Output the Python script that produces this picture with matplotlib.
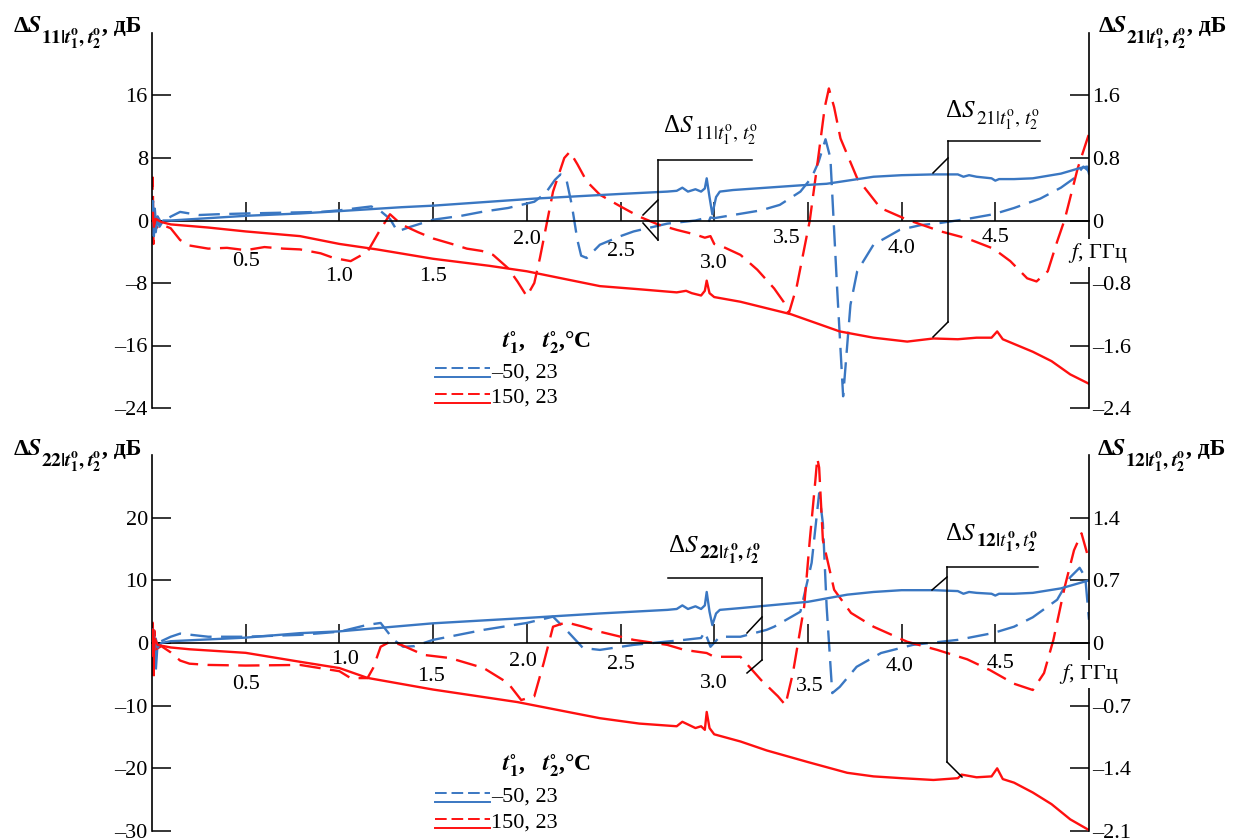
import matplotlib
matplotlib.use('Agg')
import matplotlib.pyplot as plt
from matplotlib.lines import Line2D

plt.rcParams['font.family'] = ['Liberation Serif', 'DejaVu Serif']
plt.rcParams['mathtext.fontset'] = 'stix'

# ---------------- data ----------------
# Top panel: S11 (left axis, dB) and S21 (right axis, dB)
f_s11_m50 = [0, 0.005, 0.01, 0.015, 0.02, 0.03, 0.05, 0.1, 0.15, 0.25, 0.35, 0.5, 0.7, 0.9, 1.0, 1.1, 1.17,
             1.22, 1.27, 1.31, 1.38, 1.5, 1.65, 1.77, 1.9, 2.04, 2.1, 2.15, 2.18, 2.21, 2.24, 2.27, 2.29, 2.32,
             2.39, 2.5, 2.57, 2.75, 2.9, 2.95, 2.97, 2.98, 3.0, 3.1, 3.25, 3.35, 3.46, 3.52, 3.557, 3.594, 3.62,
             3.656, 3.688, 3.727, 3.763, 3.85, 3.99, 4.1, 4.21, 4.35, 4.49, 4.6, 4.74, 4.85, 4.92, 4.97, 5.0]
s11_m50 = [0, 2.5, -1.5, 1.5, -1.0, 0.5, -0.3, 0.5, 1.1, 0.7, 0.8, 0.9, 1.0, 1.1, 1.3, 1.6, 1.8,
           1.2, 0.2, -1.4, -0.8, 0.1, 0.6, 1.15, 1.6, 2.4, 3.5, 5.2, 5.9, 5.4, 2.0, -2.5, -4.5, -4.8,
           -3.1, -2.0, -1.4, -0.4, 0.0, 0.3, -0.2, 0.4, 0.3, 0.7, 1.3, 2.0, 3.7, 5.5, 7.5, 10.4, 8.0,
           -8.7, -22.5, -10.8, -6.5, -3.1, -1.2, -0.6, -0.3, 0.2, 0.8, 1.6, 2.8, 4.2, 5.4, 6.9, 6.3]

f_s11_p150 = [0, 0.004, 0.008, 0.012, 0.02, 0.05, 0.1, 0.15, 0.2, 0.3, 0.4, 0.5, 0.6, 0.7, 0.79, 0.9, 0.97,
              1.06, 1.15, 1.21, 1.27, 1.33, 1.42, 1.5, 1.6, 1.68, 1.76, 1.82, 1.9, 1.95, 2.0, 2.04, 2.07,
              2.14, 2.2, 2.23, 2.27, 2.32, 2.39, 2.5, 2.6, 2.7, 2.8, 2.9, 2.95, 2.98, 3.0, 3.05, 3.14, 3.23,
              3.32, 3.37, 3.398, 3.44, 3.51, 3.557, 3.59, 3.612, 3.64, 3.674, 3.763, 3.887, 4.03, 4.21,
              4.35, 4.49, 4.58, 4.67, 4.72, 4.78, 4.83, 4.87, 4.94, 5.0]
s11_p150 = [0, 5.5, -3.0, 2.0, -1.0, -0.5, -1.0, -2.5, -3.2, -3.6, -3.5, -3.8, -3.4, -3.6, -3.7, -4.2, -4.8,
            -5.2, -4.0, -1.5, 0.8, -0.5, -1.5, -2.3, -3.0, -3.6, -3.9, -4.4, -6.1, -7.8, -9.7, -8.0, -4.8,
            3.7, 8.0, 8.8, 7.2, 5.0, 3.3, 1.8, 0.5, -0.5, -1.2, -1.8, -2.2, -2.0, -3.0, -3.4, -4.4, -6.3,
            -8.7, -10.4, -11.9, -8.5, 0.0, 8.4, 14.5, 16.9, 14.5, 10.5, 5.4, 1.6, 0.1, -1.4,
            -2.3, -3.6, -5.2, -7.4, -7.8, -6.5, -2.7, 0.1, 6.7, 11.1]

f_s21_m50 = [0, 0.005, 0.01, 0.015, 0.02, 0.03, 0.04, 0.06, 0.1, 0.3, 0.5, 0.79, 1.0, 1.33, 1.5, 2.04, 2.5,
             2.75, 2.8, 2.83, 2.86, 2.9, 2.93, 2.95, 2.96, 2.975, 2.99, 3.01, 3.03, 3.1, 3.46, 3.6, 3.85,
             4.0, 4.17, 4.3, 4.33, 4.36, 4.4, 4.48, 4.5, 4.52, 4.6, 4.7, 4.85, 4.95, 4.99, 5.0]
s21_m50 = [0, 0.25, -0.2, 0.15, -0.15, 0.05, -0.08, 0.0, 0.0, 0.03, 0.06, 0.09, 0.12, 0.17, 0.19, 0.28, 0.34,
           0.37, 0.38, 0.42, 0.37, 0.40, 0.37, 0.41, 0.54, 0.3, 0.08, 0.3, 0.37, 0.39, 0.45, 0.47, 0.56,
           0.58, 0.59, 0.59, 0.56, 0.58, 0.56, 0.54, 0.51, 0.53, 0.53, 0.54, 0.60, 0.67, 0.69, 0.60]

f_s21_p150 = [0, 0.005, 0.01, 0.02, 0.05, 0.1, 0.3, 0.5, 0.79, 1.0, 1.2, 1.5, 1.8, 2.0, 2.39, 2.6, 2.8, 2.85,
              2.88, 2.93, 2.95, 2.96, 2.975, 3.0, 3.14, 3.41, 3.67, 3.85, 4.03, 4.17, 4.3, 4.4, 4.48, 4.51,
              4.54, 4.6, 4.7, 4.8, 4.9, 5.0]
s21_p150 = [0, 0.1, -0.08, 0.02, -0.02, -0.05, -0.09, -0.14, -0.2, -0.3, -0.37, -0.49, -0.58, -0.65, -0.84,
            -0.88, -0.92, -0.9, -0.93, -0.96, -0.9, -0.77, -0.93, -0.98, -1.04, -1.2, -1.42, -1.5, -1.55,
            -1.51, -1.52, -1.5, -1.5, -1.42, -1.52, -1.58, -1.68, -1.8, -1.97, -2.09]

# Bottom panel: S22 (left axis, dB) and S12 (right axis, dB)
f_s22_m50 = [0, 0.005, 0.01, 0.015, 0.02, 0.03, 0.05, 0.1, 0.15, 0.3, 0.5, 0.79, 1.0, 1.15, 1.22, 1.29,
             1.34, 1.4, 1.5, 1.77, 2.0, 2.14, 2.21, 2.3, 2.39, 2.57, 2.84, 2.93, 2.95, 2.98, 3.03, 3.14,
             3.28, 3.32, 3.46, 3.52, 3.56, 3.58, 3.6, 3.63, 3.67, 3.76, 3.89, 4.06, 4.21, 4.3, 4.49, 4.6,
             4.7, 4.83, 4.9, 4.95, 4.98, 5.0]
s22_m50 = [0, 1.0, -1.0, 0.5, -4.5, 0.0, 0.3, 1.0, 1.5, 1.0, 1.0, 1.3, 1.8, 2.9, 3.2, 0.5,
           -0.6, -0.5, 0.5, 2.1, 3.2, 4.2, 2.1, -0.8, -1.1, -0.3, 0.5, 0.8, 1.8, -0.6, 1.0, 1.0,
           2.1, 2.6, 5.0, 12.8, 23.9, 19.1, 5.8, -8.0, -7.0, -3.8, -1.6, -0.3, 0.2, 0.5, 1.6, 2.6,
           4.1, 6.9, 10.5, 12.0, 10.5, 3.7]

f_s22_p150 = [0, 0.004, 0.008, 0.012, 0.02, 0.05, 0.1, 0.15, 0.2, 0.3, 0.5, 0.79, 1.0, 1.06, 1.15, 1.18,
              1.22, 1.27, 1.33, 1.45, 1.59, 1.77, 1.9, 1.97, 2.04, 2.09, 2.14, 2.21, 2.3, 2.39, 2.57, 2.75,
              2.84, 2.96, 3.0, 3.14, 3.25, 3.34, 3.38, 3.42, 3.48, 3.51, 3.54, 3.55, 3.56, 3.58, 3.64,
              3.73, 3.85, 4.03, 4.19, 4.35, 4.47, 4.6, 4.7, 4.76, 4.81, 4.87, 4.92, 4.96, 4.99]
s22_p150 = [0, 4.0, -6.0, 2.0, -1.0, -0.5, -1.5, -2.8, -3.3, -3.5, -3.6, -3.5, -4.5, -5.6, -5.6, -4.0,
            -0.6, 0.2, -0.3, -1.9, -2.4, -4.0, -6.4, -9.1, -8.5, -3.2, 2.6, 3.3, 2.6, 1.8, 0.5, -0.3,
            -1.1, -1.6, -2.2, -2.2, -5.9, -8.5, -9.9, -4.8, 5.8, 16.4, 26.0, 29.5, 28.0, 16.4, 8.5,
            4.8, 2.6, 0.2, -1.1, -2.6, -4.3, -6.5, -7.5, -4.8, 0.5, 8.9, 14.8, 17.5, 14.3]

f_s12_m50 = [0, 0.005, 0.01, 0.02, 0.03, 0.05, 0.1, 0.3, 0.5, 0.79, 1.0, 1.5, 2.0, 2.39, 2.75, 2.8, 2.83,
             2.86, 2.9, 2.93, 2.95, 2.96, 2.975, 2.99, 3.01, 3.03, 3.14, 3.5, 3.71, 3.85, 4.0, 4.17, 4.3,
             4.33, 4.36, 4.4, 4.48, 4.5, 4.52, 4.6, 4.7, 4.85, 4.95, 5.0]
s12_m50 = [0, 0.15, -0.1, 0.05, -0.05, 0.0, 0.02, 0.04, 0.06, 0.11, 0.13, 0.22, 0.28, 0.33, 0.37, 0.38, 0.42,
           0.38, 0.41, 0.38, 0.42, 0.57, 0.35, 0.2, 0.33, 0.37, 0.39, 0.46, 0.54, 0.57, 0.59, 0.59, 0.58,
           0.55, 0.57, 0.56, 0.55, 0.53, 0.55, 0.55, 0.56, 0.61, 0.67, 0.70]

f_s12_p150 = [0, 0.004, 0.008, 0.015, 0.03, 0.05, 0.1, 0.2, 0.5, 0.79, 1.0, 1.15, 1.5, 1.95, 2.39, 2.6, 2.8,
              2.83, 2.9, 2.93, 2.95, 2.96, 2.975, 3.0, 3.14, 3.28, 3.5, 3.71, 3.85, 4.0, 4.17, 4.3, 4.32,
              4.4, 4.48, 4.51, 4.54, 4.6, 4.7, 4.8, 4.9, 5.0]
s12_p150 = [0, 0.15, -0.15, 0.05, -0.02, -0.03, -0.05, -0.07, -0.11, -0.21, -0.28, -0.39, -0.52, -0.66, -0.84,
            -0.9, -0.93, -0.88, -0.95, -0.93, -0.97, -0.77, -0.95, -1.02, -1.1, -1.2, -1.33, -1.45, -1.49,
            -1.51, -1.53, -1.51, -1.47, -1.5, -1.49, -1.40, -1.52, -1.56, -1.67, -1.8, -1.97, -2.09]

# axes ticks / labels
x_ticks = [0.5, 1.0, 1.5, 2.0, 2.5, 3.0, 3.5, 4.0, 4.5]
x_labels = ['0.5', '1.0', '1.5', '2.0', '2.5', '3.0', '3.5', '4.0', '4.5']
top_xlabel_pos = [(0.5, -5.2), (1.0, -7.2), (1.5, -7.2), (2.0, -2.4), (2.5, -4.0),
                  (3.0, -5.5), (3.39, -2.3), (4.0, -3.6), (4.5, -2.2)]
bot_xlabel_pos = [(0.5, -6.7), (1.03, -2.7), (1.49, -5.4), (1.98, -3.0), (2.5, -3.5),
                  (3.0, -6.4), (3.51, -7.0), (3.99, -3.8), (4.53, -3.2)]

top_lticks = [-24, -16, -8, 0, 8, 16]
top_llabels = ['–24', '–16', '–8', '0', '8', '16']
top_rticks = [-2.4, -1.6, -0.8, 0, 0.8, 1.6]
top_rlabels = ['–2.4', '–1.6', '–0.8', '0', '0.8', '1.6']
bot_lticks = [-30, -20, -10, 0, 10, 20]
bot_llabels = ['–30', '–20', '–10', '0', '10', '20']
bot_rticks = [-2.1, -1.4, -0.7, 0, 0.7, 1.4]
bot_rlabels = ['–2.1', '–1.4', '–0.7', '0', '0.7', '1.4']

legend_labels = ['–50, 23', '150, 23']

BLUE = '#3a77c2'
RED = '#ff1010'

# ---------------- figure ----------------
W, H = 1235, 840
fig = plt.figure(figsize=(W / 100, H / 100), dpi=100)
renderer = fig.canvas.get_renderer()


def fx(x):
    return x / W


def fy(y):
    return 1 - y / H


def px_line(x0, y0, x1, y1, **kw):
    kw.setdefault('color', 'black')
    kw.setdefault('lw', 1.1)
    fig.add_artist(Line2D([fx(x0), fx(x1)], [fy(y0), fy(y1)], transform=fig.transFigure, **kw))


def chain(x_px, base_px, parts):
    """Place text pieces one after another on a common baseline (with offsets)."""
    x = x_px
    for s, fs, dy, bold, gap in parts:
        t = fig.text(fx(x + gap), fy(base_px + dy), s, ha='left', va='baseline', fontsize=fs,
                     fontweight='bold' if bold else 'normal')
        bb = t.get_window_extent(renderer=renderer)
        x = bb.x1


def make_panel(ytop, ybot, lticks, llabels, rticks, rlabels, xlabpos):
    ax = fig.add_axes([fx(152), fy(ybot), fx(1089) - fx(152), fy(ytop) - fy(ybot)])
    axr = ax.twinx()
    ax.set_xlim(0, 5)
    ax.set_ylim(lticks[0], -lticks[0])
    axr.set_ylim(rticks[0], -rticks[0])
    for s in ['top', 'right']:
        ax.spines[s].set_visible(False)
    for s in ['top', 'left', 'bottom']:
        axr.spines[s].set_visible(False)
    ax.spines['bottom'].set_position(('data', 0))
    for sp in [ax.spines['left'], ax.spines['bottom'], axr.spines['right']]:
        sp.set_linewidth(1.2)
    ax.set_xticks(x_ticks)
    ax.tick_params(axis='x', direction='in', length=13.7, width=1.1, labelbottom=False)
    ax.set_yticks(lticks)
    ax.set_yticklabels(llabels)
    ax.tick_params(axis='y', direction='in', length=13.7, width=1.1, labelsize=16, pad=3)
    axr.set_yticks(rticks)
    axr.set_yticklabels(rlabels)
    axr.tick_params(axis='y', direction='in', length=13.7, width=1.1, labelsize=16, pad=2)
    for lab, (xv, yv) in zip(x_labels, xlabpos):
        ax.text(xv, yv, lab, ha='center', va='center', fontsize=16)
    return ax, axr


DASH = (9, 4)
LW = 1.7

# ---- top panel ----
ax1, ax1r = make_panel(33, 408, top_lticks, top_llabels, top_rticks, top_rlabels, top_xlabel_pos)
ax1.plot(f_s11_m50, s11_m50, color=BLUE, lw=LW, dashes=DASH)
ax1.plot(f_s11_p150, s11_p150, color=RED, lw=LW, dashes=DASH)
ax1r.plot(f_s21_m50, s21_m50, color=BLUE, lw=LW)
ax1r.plot(f_s21_p150, s21_p150, color=RED, lw=LW)

# ---- bottom panel ----
ax2, ax2r = make_panel(455, 831, bot_lticks, bot_llabels, bot_rticks, bot_rlabels, bot_xlabel_pos)
ax2.plot(f_s22_m50, s22_m50, color=BLUE, lw=LW, dashes=DASH)
ax2.plot(f_s22_p150, s22_p150, color=RED, lw=LW, dashes=DASH)
ax2r.plot(f_s12_m50, s12_m50, color=BLUE, lw=LW)
ax2r.plot(f_s12_p150, s12_p150, color=RED, lw=LW)

# ---- frequency axis labels ----
for axr, (xp, yp) in [(ax1r, (1098, 253)), (ax2r, (1089, 674))]:
    axr.text(fx(xp), fy(yp), r'$\mathit{f}$, ГГц', transform=fig.transFigure, ha='center', va='center',
             fontsize=16, zorder=10,
             bbox=dict(facecolor='white', edgecolor='none', pad=1.5))


# ---- axis titles ----
def title_parts(idx):
    sub = (r'$\mathbf{' + idx + r'|}\mathbfit{t}_{\mathbf{1}}^{\mathbf{o}}\mathbf{,}\;'
           r'\mathbfit{t}_{\mathbf{2}}^{\mathbf{o}}$')
    return [('Δ$\\mathbfit{S}$', 17, 0, True, 0), (sub, 14, 12, True, -1), (', дБ', 17, 0, True, 0)]


chain(13, 32, title_parts('11'))
chain(1098, 32, title_parts('21'))
chain(13, 455, title_parts('22'))
chain(1097, 455, title_parts('12'))


# ---- callouts ----
def callout_parts(idx, bold_sub):
    if bold_sub:
        sub = (r'$\mathbf{' + idx + r'|}\mathit{t}_{\mathbf{1}}^{\mathbf{o}}\mathbf{,}\,'
               r'\mathit{t}_{\mathbf{2}}^{\mathbf{o}}$')
    else:
        sub = '$' + idx + r'|t_{1}^{\rm o},\,t_{2}^{\rm o}$'
    return [('Δ$S$', 18, 0, False, 0), (sub, 14, 7, False, 0)]


chain(663, 132, callout_parts('11', False))
px_line(658, 160, 752, 160)
px_line(658, 160, 658, 240)
px_line(658, 200, 643, 215)
px_line(643, 223, 658, 240)

chain(945, 117, callout_parts('21', False))
px_line(948, 141, 1040, 141)
px_line(948, 141, 948, 322)
px_line(948, 158, 933, 173)
px_line(948, 322, 933, 337)

chain(668, 552, callout_parts('22', True))
px_line(668, 578, 762, 578)
px_line(762, 578, 762, 660)
px_line(762, 617, 747, 633)
px_line(762, 660, 747, 673)

chain(945, 540, callout_parts('12', True))
px_line(947, 567, 1038, 567)
px_line(947, 567, 947, 762)
px_line(947, 577, 932, 590)
px_line(947, 762, 962, 777)

# ---- legends ----
header = r'$\mathbfit{t}_{\mathbf{1}}^{\circ}$,   $\mathbfit{t}_{\mathbf{2}}^{\circ}$,°C'
for (hy, ys, ty) in [(347, (368, 377, 394, 403), (373, 398)), (770, (793, 802, 819, 828), (797, 823))]:
    fig.text(fx(502), fy(hy), header, ha='left', va='baseline', fontsize=17, fontweight='bold')
    px_line(435, ys[0], 490, ys[0], color=BLUE, lw=1.4, dashes=(6, 2.5))
    px_line(435, ys[1], 490, ys[1], color=BLUE, lw=1.4)
    px_line(435, ys[2], 490, ys[2], color=RED, lw=1.4, dashes=(6, 2.5))
    px_line(435, ys[3], 490, ys[3], color=RED, lw=1.4)
    fig.text(fx(491), fy(ty[0]), legend_labels[0], ha='left', va='center', fontsize=16)
    fig.text(fx(491), fy(ty[1]), legend_labels[1], ha='left', va='center', fontsize=16)

fig.savefig('out.png', dpi=100)
